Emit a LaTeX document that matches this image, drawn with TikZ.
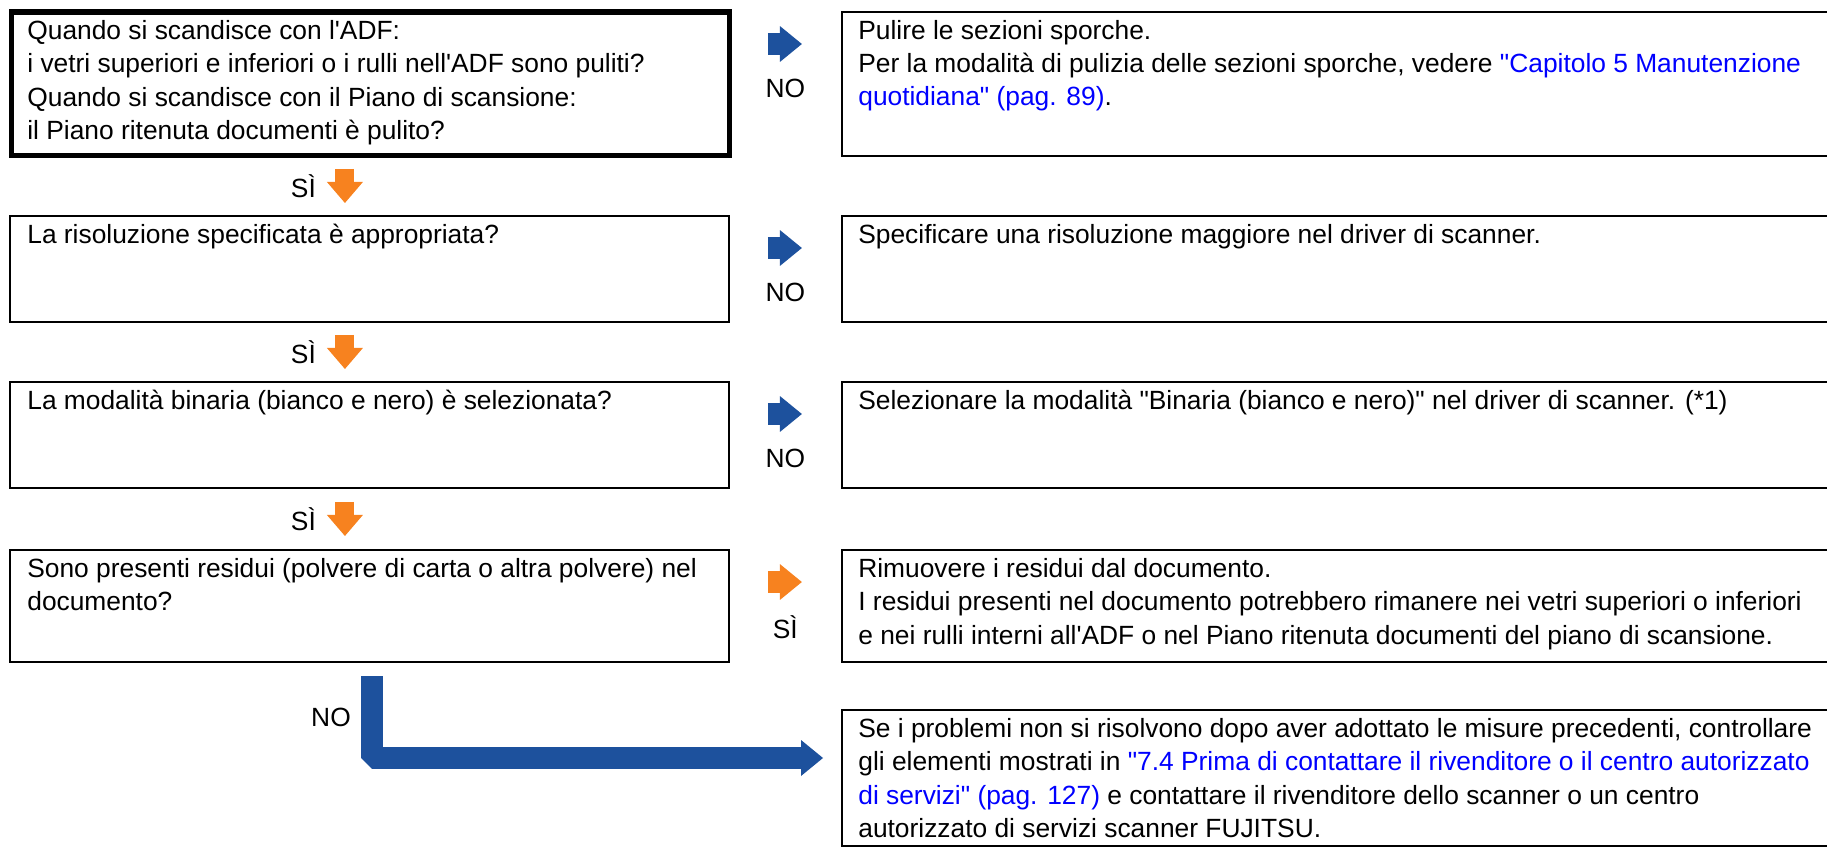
\documentclass[tikz,border=0pt]{standalone}
\usepackage{fontspec}
\setmainfont{Liberation Sans}[Ligatures=TeXOff]
\usetikzlibrary{arrows.meta,calc}

\definecolor{flowblue}{RGB}{29,81,157}
\definecolor{floworange}{RGB}{247,130,31}
\definecolor{linkblue}{RGB}{0,0,255}
\newcommand{\lnk}[1]{\textcolor{linkblue}{#1}}

\begin{document}
\begin{tikzpicture}[
  x=0.02cm, y=-0.02cm,
  font=\fontsize{15}{19}\selectfont,
  qbox/.style={draw, line width=1.2pt, anchor=north west, inner sep=0pt, outer sep=0pt,
               minimum width=14.38cm},
  abox/.style={draw, line width=1.2pt, anchor=north west, inner sep=0pt, outer sep=0pt,
               minimum width=20cm},
  txt/.style={anchor=base west, inner sep=0pt, align=left},
  lab/.style={inner sep=0pt},
  noarr/.style={draw=flowblue, line width=0.44cm,
                -{Triangle[length=0.44cm, width=0.72cm, line width=0pt]}},
  siarr/.style={draw=floworange, line width=0.38cm,
                -{Triangle[length=0.42cm, width=0.72cm, line width=0pt]}},
  lnkarr/.style={draw=floworange, line width=0.44cm,
                -{Triangle[length=0.44cm, width=0.72cm, line width=0pt]}}
]
\clip (0,0) rectangle (1827,848);

% ---------------- questions ----------------
\node[qbox, line width=2.85pt, minimum width=14.36cm, minimum height=2.88cm] (q1) at (11.5,12) {};
\node[qbox, minimum height=2.12cm] (q2) at (10,216) {};
\node[qbox, minimum height=2.12cm] (q3) at (10,382) {};
\node[qbox, minimum height=2.24cm] (q4) at (10,550) {};

% base of a text node is its last line: 27 + 33.5 per extra line
\node[txt] (q1t) at ([shift={(15.5,127.5)}]q1.north west)
  {Quando si scandisce con l'ADF:\\
   i vetri superiori e inferiori o i rulli nell'ADF sono puliti?\\
   Quando si scandisce con il Piano di scansione:\\
   il Piano ritenuta documenti è pulito?};
\node[txt] (q2t) at ([shift={(17,27)}]q2.north west)
  {La risoluzione specificata è appropriata?};
\node[txt] (q3t) at ([shift={(17,27)}]q3.north west)
  {La modalità binaria (bianco e nero) è selezionata?};
\node[txt] (q4t) at ([shift={(17,60.5)}]q4.north west)
  {Sono presenti residui (polvere di carta o altra polvere) nel\\
   documento?};

% ---------------- actions ----------------
\node[abox, minimum height=2.88cm] (a1) at (842,12) {};
\node[abox, minimum height=2.12cm] (a2) at (842,216) {};
\node[abox, minimum height=2.12cm] (a3) at (842,382) {};
\node[abox, minimum height=2.24cm] (a4) at (842,550) {};
\node[abox, minimum height=2.72cm] (a5) at (842,710) {};

\node[txt] (a1t) at ([shift={(16,94)}]a1.north west)
  {Pulire le sezioni sporche.\\
   Per la modalità di pulizia delle sezioni sporche, vedere \lnk{"Capitolo 5 Manutenzione}\\
   \lnk{quotidiana" (pag. 89)}.};
\node[txt] (a2t) at ([shift={(16,27)}]a2.north west)
  {Specificare una risoluzione maggiore nel driver di scanner.};
\node[txt] (a3t) at ([shift={(16,27)}]a3.north west)
  {Selezionare la modalità "Binaria (bianco e nero)" nel driver di scanner. (*1)};
\node[txt] (a4t) at ([shift={(16,94)}]a4.north west)
  {Rimuovere i residui dal documento.\\
   I residui presenti nel documento potrebbero rimanere nei vetri superiori o inferiori\\
   e nei rulli interni all'ADF o nel Piano ritenuta documenti del piano di scansione.};
\node[txt] (a5t) at ([shift={(16,127.5)}]a5.north west)
  {Se i problemi non si risolvono dopo aver adottato le misure precedenti, controllare\\
   gli elementi mostrati in \lnk{"7.4 Prima di contattare il rivenditore o il centro autorizzato}\\
   \lnk{di servizi" (pag. 127)} e contattare il rivenditore dello scanner o un centro\\
   autorizzato di servizi scanner FUJITSU.};

% ---------------- NO to the right ----------------
\draw[noarr] ([shift={(38.5,32)}]q1.north east) -- +(34,0);
\draw[noarr] ([shift={(39,32)}]q2.north east) -- +(34,0);
\draw[noarr] ([shift={(39,32)}]q3.north east) -- +(34,0);
\draw[lnkarr] ([shift={(39,32)}]q4.north east) -- +(34,0);
\node[lab] (no1) at ([shift={(56,76)}]q1.north east) {NO};
\node[lab] (no2) at ([shift={(56.5,76)}]q2.north east) {NO};
\node[lab] (no3) at ([shift={(56.5,76)}]q3.north east) {NO};
\node[lab] (si4) at ([shift={(56.5,77)}]q4.north east) {SÌ};

% ---------------- SÌ downwards ----------------
\draw[siarr] ([shift={(-25.5,13)}]q1.south) -- +(0,34);
\draw[siarr] ([shift={(-24.5,13)}]q2.south) -- +(0,34);
\draw[siarr] ([shift={(-24.5,14)}]q3.south) -- +(0,34);
\node[lab] (si1) at ([shift={(-67,30)}]q1.south) {SÌ};
\node[lab] (si2) at ([shift={(-66,30)}]q2.south) {SÌ};
\node[lab] (si3) at ([shift={(-66,31)}]q3.south) {SÌ};

% ---------------- last NO, round to the end box ----------------
\coordinate (nofoot) at (372,676);
\coordinate (nohead) at (823,758);
\draw[noarr, line join=bevel] (nofoot) |- (nohead);
\node[lab] (no4) at (331,717) {NO};

\end{tikzpicture}
\end{document}
